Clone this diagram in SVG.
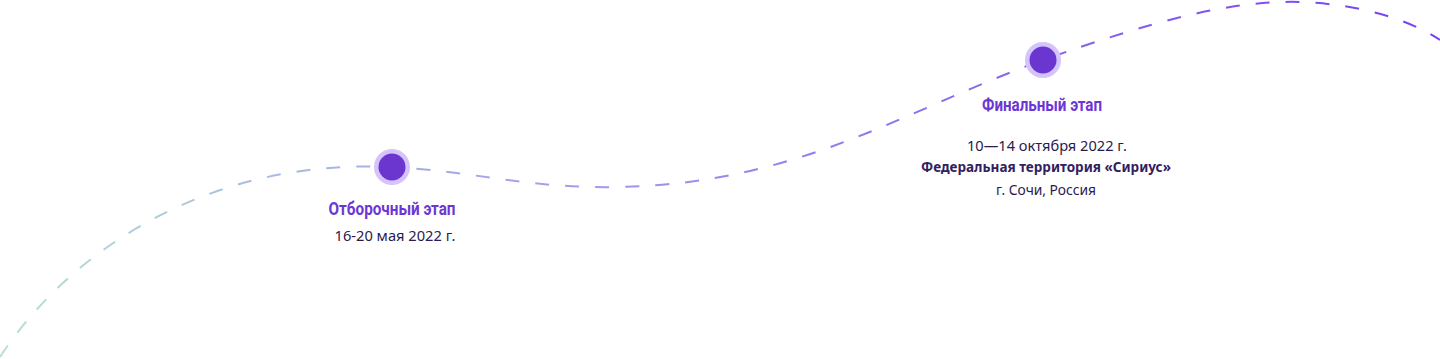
<svg xmlns="http://www.w3.org/2000/svg" width="1440" height="359" viewBox="0 0 1440 359">
<style>
.title{font-family:"Roboto","Noto Sans",sans-serif;font-weight:700;font-size:18.5px;fill:#6c36d6;text-anchor:middle}
.body{font-family:"Noto Sans","Open Sans",sans-serif;font-size:15px;fill:#2a1a4e;text-anchor:middle}
.bold{font-weight:700;fill:#32205e}
.halo{fill:#d4c4fb}
.dot{fill:#6b35d0}
</style>
<defs>
<linearGradient id="lineGrad" gradientUnits="userSpaceOnUse" x1="0" y1="0" x2="1440" y2="0">
<stop offset="0" stop-color="#b6e0d6"/>
<stop offset="0.2" stop-color="#a9b9df"/>
<stop offset="0.4" stop-color="#a59ceb"/>
<stop offset="0.65" stop-color="#8c6cef"/>
<stop offset="1" stop-color="#7840f0"/>
</linearGradient>
</defs>
<g id="connectors">
<path d="M 0 357 C 70 250, 210 158, 392 167 C 480 172, 530 189, 620 187 C 800 183, 900 112, 1043 60 C 1150 22, 1230 0, 1300 2 C 1360 4, 1410 20, 1440 40" fill="none" stroke="url(#lineGrad)" stroke-width="2" stroke-dasharray="14 16"/>
</g>
<g id="node-qualifying">
<circle class="halo" cx="392" cy="167" r="18"/>
<circle class="dot" cx="392" cy="167" r="13.5"/>
<text class="title" x="392" y="215" textLength="127" lengthAdjust="spacingAndGlyphs">Отборочный этап</text>
<text class="body" x="395" y="241" textLength="121" lengthAdjust="spacingAndGlyphs">16-20 мая 2022 г.</text>
</g>
<g id="node-final">
<circle class="halo" cx="1043" cy="60" r="18"/>
<circle class="dot" cx="1043" cy="60" r="13.5"/>
<text class="title" x="1042" y="111" textLength="120" lengthAdjust="spacingAndGlyphs">Финальный этап</text>
<text class="body" x="1047" y="151" textLength="160" lengthAdjust="spacingAndGlyphs">10—14 октября 2022 г.</text>
<text class="body bold" x="1046" y="172" textLength="250" lengthAdjust="spacingAndGlyphs">Федеральная территория «Сириус»</text>
<text class="body" x="1046" y="195" textLength="100" lengthAdjust="spacingAndGlyphs">г. Сочи, Россия</text>
</g>
</svg>
